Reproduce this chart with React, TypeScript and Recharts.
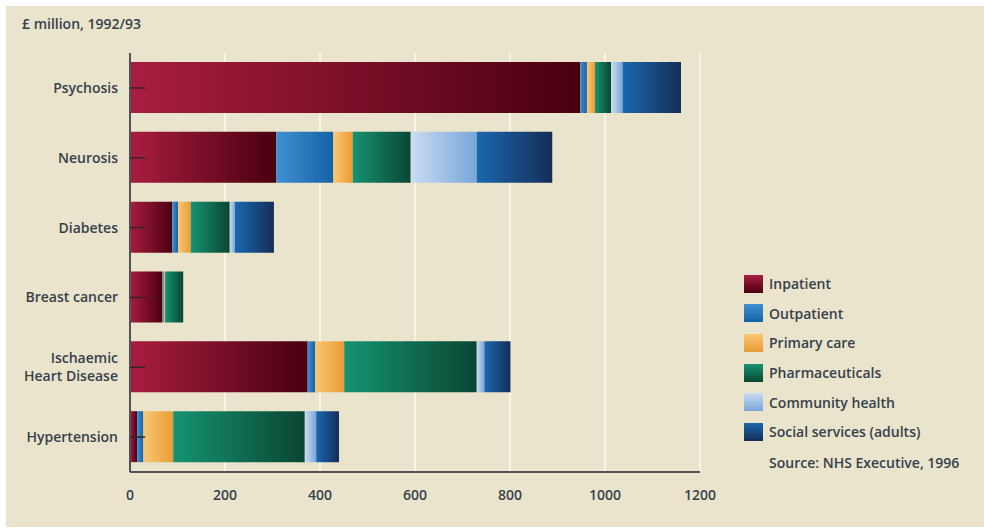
import React from "react";
import { BarChart, Bar, XAxis, YAxis, CartesianGrid } from "recharts";

const categories = ["Psychosis", "Neurosis", "Diabetes", "Breast cancer", "Ischaemic\nHeart Disease", "Hypertension"];
const inpatient = [948, 308, 89, 68, 374, 15];
const outpatient = [14, 120, 12, 3, 16, 13];
const primaryCare = [17, 41, 27, 3, 61, 63];
const pharmaceuticals = [34, 122, 82, 38, 279, 277];
const communityHealth = [24, 139, 11, 0, 16, 24];
const socialServices = [123, 159, 82, 0, 55, 48];
const xTicks = [0, 200, 400, 600, 800, 1000, 1200];

const series = [
  { key: "inpatient", name: "Inpatient", from: "#a81d40", to: "#4a000f" },
  { key: "outpatient", name: "Outpatient", from: "#3f8fd0", to: "#1463a8" },
  { key: "primary", name: "Primary care", from: "#f8c774", to: "#ea9c33" },
  { key: "pharma", name: "Pharmaceuticals", from: "#159371", to: "#0a4632" },
  { key: "community", name: "Community health", from: "#cadcf0", to: "#78a6da" },
  { key: "social", name: "Social services (adults)", from: "#1a68ae", to: "#152d58" },
];

const data = categories.map((name, i) => ({
  name,
  inpatient: inpatient[i],
  outpatient: outpatient[i],
  primary: primaryCare[i],
  pharma: pharmaceuticals[i],
  community: communityHealth[i],
  social: socialServices[i],
}));

const textColor = "#36414b";
const font = "'Open Sans', sans-serif";

function CategoryTick({ x, y, payload }: any) {
  const lines = String(payload.value).split("\n");
  return (
    <g>
      <line x1={x + 12} x2={x + 27} y1={y} y2={y} stroke="#3a2228" strokeWidth={1.5} />
      <text x={x} y={y} textAnchor="end" fill={textColor} fontSize={14} fontWeight={600} fontFamily={font}>
        {lines.map((l, i) => (
          <tspan key={i} x={x} dy={i === 0 ? (lines.length === 1 ? 5 : -4) : 18}>
            {l}
          </tspan>
        ))}
      </text>
    </g>
  );
}

export default function App() {
  return (
    <div style={{ position: "absolute", left: 0, top: 0, width: 984, height: 528, background: "#ffffff", overflow: "hidden" }}>
      <div style={{ position: "absolute", left: 6, top: 6, width: 978, height: 521, background: "#eae4cc" }} />
      <div
        style={{
          position: "absolute",
          left: 22,
          top: 14,
          fontFamily: font,
          fontSize: 14,
          fontWeight: 600,
          color: textColor,
        }}
      >
        £ million, 1992/93
      </div>
      <div style={{ position: "absolute", left: 0, top: 0 }}>
        <BarChart
          width={984}
          height={528}
          data={data}
          layout="vertical"
          barSize={51}
          margin={{ top: 53, right: 284, left: 0, bottom: 0 }}
        >
          <defs>
            {series.map((s) => (
              <linearGradient key={s.key} id={`g-${s.key}`} x1="0" y1="0" x2="1" y2="0">
                <stop offset="0%" stopColor={s.from} />
                <stop offset="100%" stopColor={s.to} />
              </linearGradient>
            ))}
          </defs>
          <CartesianGrid horizontal={false} stroke="#f8f4e9" strokeWidth={2} />
          {series.map((s) => (
            <Bar key={s.key} dataKey={s.key} name={s.name} stackId="a" fill={`url(#g-${s.key})`} isAnimationActive={false} />
          ))}
          <XAxis
            type="number"
            domain={[0, 1200]}
            ticks={xTicks}
            height={56}
            axisLine={{ stroke: "#4f5458", strokeWidth: 2 }}
            tickLine={false}
            tickMargin={12}
            tick={{ fill: textColor, fontSize: 14, fontFamily: font, fontWeight: 600 }}
          />
          <YAxis
            type="category"
            dataKey="name"
            width={130}
            axisLine={{ stroke: "#4f5458", strokeWidth: 2 }}
            tickLine={false}
            tickSize={0}
            tickMargin={12}
            tick={<CategoryTick />}
          />
        </BarChart>
      </div>
      <div
        style={{
          position: "absolute",
          left: 744,
          top: 269,
          fontFamily: font,
          color: textColor,
          fontSize: 14,
          fontWeight: 600,
        }}
      >
        {series.map((s) => (
          <div key={s.key} style={{ display: "flex", alignItems: "center", height: 29.6 }}>
            <div
              style={{
                width: 19,
                height: 18,
                marginRight: 6,
                background: `linear-gradient(to bottom, ${s.from}, ${s.to})`,
              }}
            />
            <span>{s.name}</span>
          </div>
        ))}
        <div style={{ marginTop: 6, marginLeft: 25 }}>Source: NHS Executive, 1996</div>
      </div>
    </div>
  );
}
